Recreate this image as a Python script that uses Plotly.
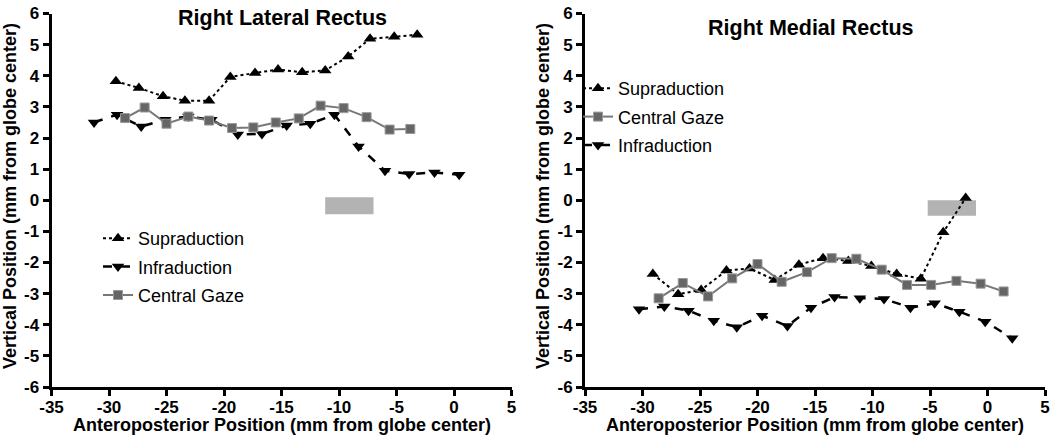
import plotly.graph_objects as go

# ---------------- data ----------------
# Right Lateral Rectus
lr_sup_x = [-29.4, -27.4, -25.3, -23.4, -21.3, -19.45, -17.3, -15.3, -13.2, -11.2, -9.2, -7.3, -5.2, -3.2]
lr_sup_y = [3.82, 3.61, 3.34, 3.20, 3.20, 3.96, 4.09, 4.20, 4.11, 4.17, 4.62, 5.19, 5.25, 5.32]
lr_inf_x = [-31.3, -29.3, -27.2, -25.1, -23.1, -21.1, -18.8, -16.7, -14.55, -12.5, -10.4, -8.3, -6.0, -3.9, -1.7, 0.45]
lr_inf_y = [2.50, 2.75, 2.37, 2.59, 2.69, 2.59, 2.11, 2.13, 2.40, 2.46, 2.75, 1.73, 0.95, 0.84, 0.89, 0.82]
lr_cen_x = [-28.6, -26.9, -25.0, -23.1, -21.3, -19.3, -17.45, -15.5, -13.5, -11.6, -9.6, -7.6, -5.6, -3.8]
lr_cen_y = [2.64, 2.98, 2.46, 2.69, 2.56, 2.32, 2.34, 2.50, 2.63, 3.04, 2.96, 2.67, 2.27, 2.29]
lr_box_x = [-11.2, -7.0]
lr_box_y = [-0.45, 0.1]

# Right Medial Rectus
mr_sup_x = [-29.1, -26.9, -24.9, -22.7, -20.7, -18.5, -16.4, -14.3, -12.1, -10.1, -7.9, -5.8, -3.85, -1.9]
mr_sup_y = [-2.37, -3.02, -2.88, -2.26, -2.19, -2.56, -2.07, -1.86, -1.95, -2.11, -2.37, -2.52, -1.03, 0.07]
mr_cen_x = [-28.6, -26.5, -24.3, -22.2, -20.0, -17.9, -15.7, -13.55, -11.4, -9.2, -7.0, -4.9, -2.7, -0.6, 1.4]
mr_cen_y = [-3.15, -2.66, -3.09, -2.51, -2.05, -2.62, -2.31, -1.86, -1.88, -2.23, -2.72, -2.72, -2.59, -2.68, -2.93]
mr_inf_x = [-30.3, -28.1, -26.0, -23.8, -21.8, -19.6, -17.4, -15.35, -13.3, -11.1, -9.0, -6.7, -4.6, -2.45, -0.2, 2.15]
mr_inf_y = [-3.50, -3.41, -3.55, -3.87, -4.08, -3.71, -4.04, -3.45, -3.11, -3.15, -3.17, -3.45, -3.31, -3.58, -3.90, -4.43]
mr_box_x = [-5.2, -1.0]
mr_box_y = [-0.5, 0.0]

x_ticks = [-35, -30, -25, -20, -15, -10, -5, 0, 5]
x_ticktext = ["-35", "-30", "-25", "-20", "-15", "-10", "-5", "0", "5"]
y_ticks = [-6, -5, -4, -3, -2, -1, 0, 1, 2, 3, 4, 5, 6]
y_ticktext = ["-6", "-5", "-4", "-3", "-2", "-1", "0", "1", "2", "3", "4", "5", "6"]

x_title = "Anteroposterior Position (mm from globe center)"
y_title = "Vertical Position (mm from globe center)"
titles = ["Right Lateral Rectus", "Right Medial Rectus"]

# ---------------- styles ----------------
FONT = "Liberation Sans, Arial, sans-serif"
sup_style = dict(mode="lines+markers", line=dict(color="black", width=2, dash="dot"),
                 marker=dict(symbol="triangle-up", size=11, color="black"))
inf_style = dict(mode="lines+markers", line=dict(color="black", width=2.5, dash="dash"),
                 marker=dict(symbol="triangle-down", size=11, color="black"))
cen_style = dict(mode="lines+markers", line=dict(color="#777777", width=2),
                 marker=dict(symbol="square", size=9, color="#666666",
                             line=dict(color="#999999", width=1)))

fig = go.Figure()
# left panel
fig.add_trace(go.Scatter(x=lr_sup_x, y=lr_sup_y, name="Supraduction", xaxis="x", yaxis="y",
                         legend="legend", legendgroup="a1", **sup_style))
fig.add_trace(go.Scatter(x=lr_inf_x, y=lr_inf_y, name="Infraduction", xaxis="x", yaxis="y",
                         legend="legend", legendgroup="a2", **inf_style))
fig.add_trace(go.Scatter(x=lr_cen_x, y=lr_cen_y, name="Central Gaze", xaxis="x", yaxis="y",
                         legend="legend", legendgroup="a3", **cen_style))
# right panel
fig.add_trace(go.Scatter(x=mr_sup_x, y=mr_sup_y, name="Supraduction", xaxis="x2", yaxis="y2",
                         legend="legend2", legendgroup="b1", **sup_style))
fig.add_trace(go.Scatter(x=mr_cen_x, y=mr_cen_y, name="Central Gaze", xaxis="x2", yaxis="y2",
                         legend="legend2", legendgroup="b2", **cen_style))
fig.add_trace(go.Scatter(x=mr_inf_x, y=mr_inf_y, name="Infraduction", xaxis="x2", yaxis="y2",
                         legend="legend2", legendgroup="b3", **inf_style))

W, H = 1050, 445
ydom = [(H - 387) / H, (H - 13.5) / H]
tickfont = dict(family=FONT, size=17, color="black", weight="bold")

def xaxis(dom, anchor):
    return dict(domain=dom, anchor=anchor, range=[-35, 5], tickvals=x_ticks, ticktext=x_ticktext,
                showline=True, linecolor="black", linewidth=3, ticks="outside",
                ticklen=6, tickwidth=3, tickcolor="black", showgrid=False, zeroline=False,
                tickfont=tickfont, ticklabelstandoff=-3, automargin=False)

def yaxis(anchor):
    return dict(domain=ydom, anchor=anchor, range=[-6, 6], tickvals=y_ticks, ticktext=y_ticktext,
                showline=True, linecolor="black", linewidth=3, ticks="outside",
                ticklen=6, tickwidth=3, tickcolor="black", showgrid=False, zeroline=False,
                tickfont=tickfont, automargin=False)

legfont = dict(family=FONT, size=18, color="black")
annfont = dict(family=FONT, size=18, color="black")

annotations = []
for cx in (281.5, 815):
    annotations.append(dict(text="<b>" + x_title + "</b>", x=cx / W, y=(H - 425) / H,
                            xref="paper", yref="paper", showarrow=False, font=annfont,
                            xanchor="center", yanchor="middle"))
for cx in (10, 543):
    annotations.append(dict(text="<b>" + y_title + "</b>", x=cx / W, y=(H - 196) / H,
                            xref="paper", yref="paper", showarrow=False, font=annfont,
                            textangle=-90, xanchor="center", yanchor="middle"))
annotations.append(dict(text="<b>" + titles[0] + "</b>", x=282 / W, y=(H - 18) / H,
                        xref="paper", yref="paper", showarrow=False,
                        font=dict(family=FONT, size=21.5, color="black"),
                        xanchor="center", yanchor="middle"))
annotations.append(dict(text="<b>" + titles[1] + "</b>", x=811 / W, y=(H - 28) / H,
                        xref="paper", yref="paper", showarrow=False,
                        font=dict(family=FONT, size=21.5, color="black"),
                        xanchor="center", yanchor="middle"))

fig.update_layout(
    width=W, height=H,
    margin=dict(l=0, r=0, t=0, b=0),
    paper_bgcolor="white", plot_bgcolor="white",
    font=dict(family=FONT, color="black"),
    xaxis=xaxis([51.5 / W, 511.5 / W], "y"),
    yaxis=yaxis("x"),
    xaxis2=xaxis([585 / W, 1045 / W], "y2"),
    yaxis2=yaxis("x2"),
    legend=dict(x=98 / W, y=(H - 220) / H, xanchor="left", yanchor="top", traceorder="grouped",
                tracegroupgap=2, bgcolor="rgba(0,0,0,0)", font=legfont),
    legend2=dict(x=578 / W, y=(H - 70) / H, xanchor="left", yanchor="top", traceorder="grouped",
                 tracegroupgap=2, bgcolor="rgba(0,0,0,0)", font=legfont),
    shapes=[
        dict(type="rect", xref="x", yref="y", x0=lr_box_x[0], x1=lr_box_x[1],
             y0=lr_box_y[0], y1=lr_box_y[1], fillcolor="#b3b3b3", line=dict(width=0), layer="below"),
        dict(type="rect", xref="x2", yref="y2", x0=mr_box_x[0], x1=mr_box_x[1],
             y0=mr_box_y[0], y1=mr_box_y[1], fillcolor="#b3b3b3", line=dict(width=0), layer="below"),
    ],
    annotations=annotations,
)

fig.write_html("out.html", config={"displayModeBar": False},
               post_script="document.body.style.margin='0';document.body.style.overflow='hidden';")
